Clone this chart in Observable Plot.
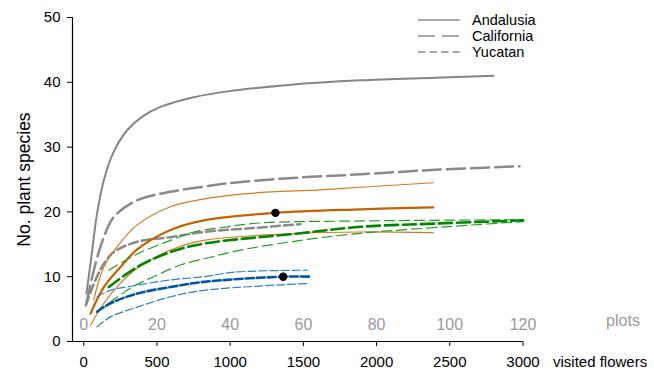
<!DOCTYPE html>
<html><head><meta charset="utf-8">
<script src="https://cdn.jsdelivr.net/npm/d3@7"></script>
<script src="https://cdn.jsdelivr.net/npm/@observablehq/plot@0.6"></script>
<style>
body{margin:0;background:#fff;}
svg{font-family:"Liberation Sans",Arial,sans-serif;}
</style>
</head><body><div id="chart"></div>
<script>
// ---- data ----
const xTicks = [0, 500, 1000, 1500, 2000, 2500, 3000];
const yTicks = [0, 10, 20, 30, 40, 50];
const plotTicks = [0, 20, 40, 60, 80, 100, 120];
const flowersPerPlot = 25;

// grey: rarefaction by visited flowers
const andalusiaTotalX = [18, 46, 91, 137, 205, 296, 400, 524, 751, 980, 1400, 1890, 2400, 2800];
const andalusiaTotalY = [7.4, 12.0, 19.8, 24.9, 29.3, 32.6, 34.7, 36.2, 37.7, 38.6, 39.6, 40.3, 40.7, 41.0];
const californiaTotalX = [18, 80, 137, 205, 365, 592, 820, 980, 1400, 1890, 2400, 2976];
const californiaTotalY = [5.9, 12.0, 16.1, 19.2, 21.8, 23.1, 23.9, 24.4, 25.2, 25.8, 26.5, 27.05];
const yucatanTotalX = [14, 80, 137, 205, 365, 592, 820, 1150, 1480];
const yucatanTotalY = [5.6, 9.5, 12.0, 13.8, 15.4, 16.1, 16.9, 17.5, 18.1];

// orange: Andalusia by plots (mean and 95% limits)
const andalusiaMeanX = [46, 137, 251, 365, 592, 820, 1309, 1890, 2387];
const andalusiaMeanY = [4.3, 8.4, 11.5, 14.2, 17.2, 18.7, 19.85, 20.4, 20.7];
const andalusiaHighX = [68, 137, 251, 365, 592, 820, 1161, 1617, 1890, 2387];
const andalusiaHighY = [6.4, 11.5, 15.3, 18.0, 20.8, 22.0, 22.9, 23.4, 23.8, 24.5];
const andalusiaLowX = [46, 137, 251, 365, 592, 820, 1480, 1890, 2387];
const andalusiaLowY = [2.5, 5.9, 9.0, 11.3, 14.1, 15.6, 16.7, 16.9, 16.8];

// green: California by plots
const californiaMeanX = [171, 365, 592, 820, 1480, 1890, 2400, 3001];
const californiaMeanY = [8.4, 11.5, 13.8, 15.1, 16.7, 17.7, 18.2, 18.7];
const californiaHighX = [171, 365, 592, 751, 980, 1207, 1890, 3001];
const californiaHighY = [11.0, 13.5, 15.6, 16.9, 17.7, 18.3, 18.6, 18.8];
const californiaLowX = [176, 330, 478, 660, 865, 1070, 1480, 1890, 3001];
const californiaLowY = [6.0, 8.4, 10.0, 11.8, 13.0, 14.1, 15.6, 16.7, 18.5];

// blue: Yucatan by plots
const yucatanMeanX = [91, 182, 365, 592, 820, 1362, 1548];
const yucatanMeanY = [4.6, 5.9, 7.4, 8.4, 9.2, 10.0, 10.0];
const yucatanHighX = [91, 182, 365, 592, 820, 1025, 1526];
const yucatanHighY = [6.9, 7.9, 8.7, 9.5, 10.0, 10.7, 11.0];
const yucatanLowX = [91, 182, 365, 592, 820, 1526];
const yucatanLowY = [2.25, 3.8, 5.3, 6.9, 7.9, 8.95];

// observed totals (dots)
const dotX = [1309, 1362];
const dotY = [19.85, 10.0];

const legendNames = ["Andalusia", "California", "Yucatan"];

// ---- build ----
const rows = (xs, ys) => xs.map((x, i) => ({x, y: ys[i]}));
const dots = dotX.map((x, i) => ({x, y: dotY[i]}));
const xDomain = [-77, 3000];

const line = (xs, ys, o) => Plot.line(rows(xs, ys), {x: "x", y: "y", curve: "catmull-rom", ...o});

const chart = Plot.plot({
  width: 654,
  height: 371,
  marginLeft: 72,
  marginRight: 131.5,
  marginTop: 17,
  marginBottom: 30,
  style: {fontFamily: "Liberation Sans, Arial, sans-serif", color: "#000", background: "#fff"},
  x: {domain: xDomain},
  y: {domain: [0, 50]},
  marks: [
    Plot.ruleX([xDomain[0]], {stroke: "#000", strokeWidth: 1.2}),
    Plot.ruleY([0], {stroke: "#000", strokeWidth: 1.2}),
    Plot.axisY(yTicks, {tickSize: 5, tickPadding: 7, fontSize: 15, label: null, stroke: "#000", tickFormat: d3.format("d")}),
    Plot.axisX(xTicks, {tickSize: 5, tickPadding: 10, fontSize: 15, label: null, stroke: "#000", tickFormat: d3.format("d")}),
    Plot.text(plotTicks, {x: d => d * flowersPerPlot, frameAnchor: "bottom", lineAnchor: "middle", dy: -17, fill: "#9a9a9a", fontSize: 16}),
    Plot.text(["plots"], {frameAnchor: "bottom-right", textAnchor: "middle", lineAnchor: "middle", dx: 100, dy: -21, fill: "#9a9a9a", fontSize: 16}),
    Plot.text(["visited flowers"], {frameAnchor: "bottom-right", textAnchor: "start", lineAnchor: "middle", dx: 30, dy: 21, fontSize: 15, fill: "#000"}),
    Plot.text(["No. plant species"], {frameAnchor: "left", textAnchor: "middle", lineAnchor: "middle", rotate: -90, dx: -48, fontSize: 17.5, fill: "#000"}),

    line(andalusiaTotalX, andalusiaTotalY, {stroke: "#858585", strokeWidth: 2}),
    line(californiaTotalX, californiaTotalY, {stroke: "#8a8a8a", strokeWidth: 2.5, strokeDasharray: "18,6"}),
    line(yucatanTotalX, yucatanTotalY, {stroke: "#8a8a8a", strokeWidth: 2.5, strokeDasharray: "9,4"}),

    line(andalusiaHighX, andalusiaHighY, {stroke: "#d27a22", strokeWidth: 1.2}),
    line(andalusiaLowX, andalusiaLowY, {stroke: "#d27a22", strokeWidth: 1.2}),
    line(andalusiaMeanX, andalusiaMeanY, {stroke: "#c46200", strokeWidth: 2.2}),

    line(californiaHighX, californiaHighY, {stroke: "#22a022", strokeWidth: 1.2, strokeDasharray: "10,5"}),
    line(californiaLowX, californiaLowY, {stroke: "#22a022", strokeWidth: 1.2, strokeDasharray: "10,5"}),
    line(californiaMeanX, californiaMeanY, {stroke: "#008600", strokeWidth: 2.6, strokeDasharray: "13,5"}),

    line(yucatanHighX, yucatanHighY, {stroke: "#2a80d6", strokeWidth: 1.2, strokeDasharray: "8,3"}),
    line(yucatanLowX, yucatanLowY, {stroke: "#2a80d6", strokeWidth: 1.2, strokeDasharray: "8,3"}),
    line(yucatanMeanX, yucatanMeanY, {stroke: "#0055a5", strokeWidth: 2.6, strokeDasharray: "8,3"}),

    Plot.dot(dots, {x: "x", y: "y", r: 4.2, fill: "#000", stroke: "none"})
  ]
});

// legend (inside the plot, top right)
const svg = d3.select(chart);
const dashes = [null, "17,7", "7.5,4"];
const lg = svg.append("g").attr("font-size", 14.5).attr("fill", "#000").attr("text-anchor", "start");
legendNames.forEach((name, i) => {
  const yy = 20 + i * 16;
  lg.append("line").attr("x1", 418).attr("x2", 460).attr("y1", yy).attr("y2", yy)
    .attr("stroke", "#555").attr("stroke-width", 1.1)
    .attr("stroke-dasharray", dashes[i]);
  lg.append("text").attr("x", 472).attr("y", yy).attr("dy", "0.35em").text(name);
});

document.getElementById("chart").appendChild(chart);
</script>
</body></html>
